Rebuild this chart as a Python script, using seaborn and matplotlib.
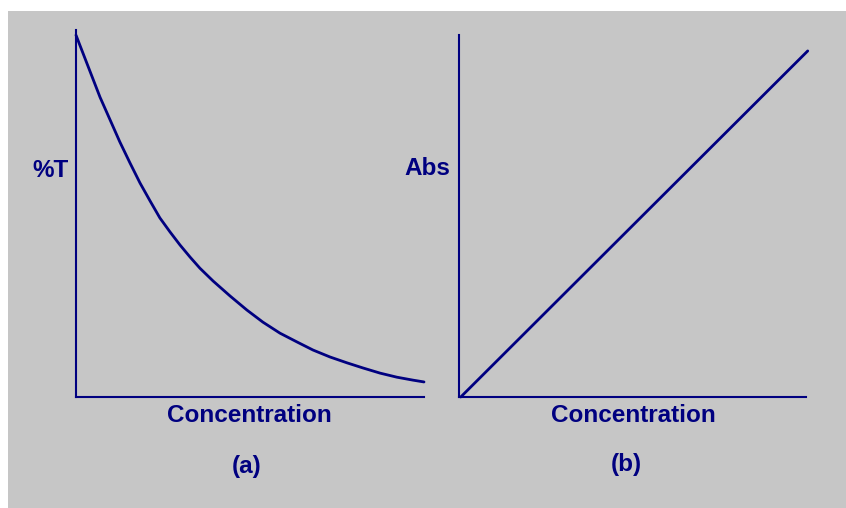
import matplotlib
matplotlib.use("Agg")
import matplotlib.pyplot as plt
import matplotlib.patches as mpatches
import seaborn as sns
import pandas as pd

# %T vs concentration
concA = [0.0, 0.11, 0.40, 0.69, 0.98, 1.26, 1.55, 1.84, 2.13, 2.41, 2.70, 2.99,
         3.28, 3.56, 3.94, 4.43, 4.91, 5.37, 5.86, 6.35, 6.81, 7.30, 7.79, 8.25,
         8.74, 9.22, 9.68, 10.0]
pctT = [98.6, 95.9, 88.8, 81.7, 75.5, 69.5, 63.8, 58.3, 53.4, 48.8, 45.0, 41.4,
        38.1, 35.1, 31.6, 27.5, 23.7, 20.4, 17.4, 15.0, 12.8, 10.9, 9.3, 7.9,
        6.5, 5.4, 4.6, 4.1]

# absorbance vs concentration
concB = [0.05, 10.05]
absB = [0.0, 95.6]

xlabels = ["Concentration", "Concentration"]
ylabels = ["%T", "Abs"]
panels = ["(a)", "(b)"]

navy = "#000080"
bg = "#c6c6c6"

sns.set_style("white")
plt.rcParams['font.family'] = ['Liberation Sans', 'DejaVu Sans']

W, H = 846, 508
fig = plt.figure(figsize=(W / 100, H / 100), dpi=100)
fig.patch.set_facecolor("white")
fig.patches.append(mpatches.Rectangle((8 / W, 0), (W - 8) / W, (H - 11) / H,
                                      transform=fig.transFigure, facecolor=bg,
                                      edgecolor="none", zorder=-10))

def px(x, y):
    return x / W, 1 - y / H

axA = fig.add_axes([76 / W, (H - 397) / H, (424 - 76) / W, (397 - 30) / H])
axB = fig.add_axes([459 / W, (H - 397) / H, (806 - 459) / W, (397 - 35) / H])

dfA = pd.DataFrame({"conc": concA, "val": pctT})
dfB = pd.DataFrame({"conc": concB, "val": absB})

for ax, df in [(axA, dfA), (axB, dfB)]:
    ax.set_facecolor("none")
    sns.lineplot(data=df, x="conc", y="val", ax=ax, color=navy, linewidth=2.0,
                 clip_on=False)
    ax.set_xlim(0, 10)
    ax.set_ylim(0, 100)
    ax.set_xticks([])
    ax.set_yticks([])
    ax.set_xlabel("")
    ax.set_ylabel("")
    for s in ["top", "right"]:
        ax.spines[s].set_visible(False)
    for s in ["left", "bottom"]:
        ax.spines[s].set_color(navy)
        ax.spines[s].set_linewidth(1.5)

fs = 17.5
tk = dict(color=navy, fontsize=fs, fontweight="bold", ha="center", va="center")
fig.text(*px(50, 170), ylabels[0], **tk)
fig.text(*px(427, 168), ylabels[1], **tk)
fig.text(*px(249, 416), xlabels[0], **tk)
fig.text(*px(633, 416), xlabels[1], **tk)
fig.text(*px(247, 466), panels[0], **tk)
fig.text(*px(626, 465), panels[1], **tk)

fig.savefig("out.png", dpi=100, facecolor=fig.get_facecolor())
